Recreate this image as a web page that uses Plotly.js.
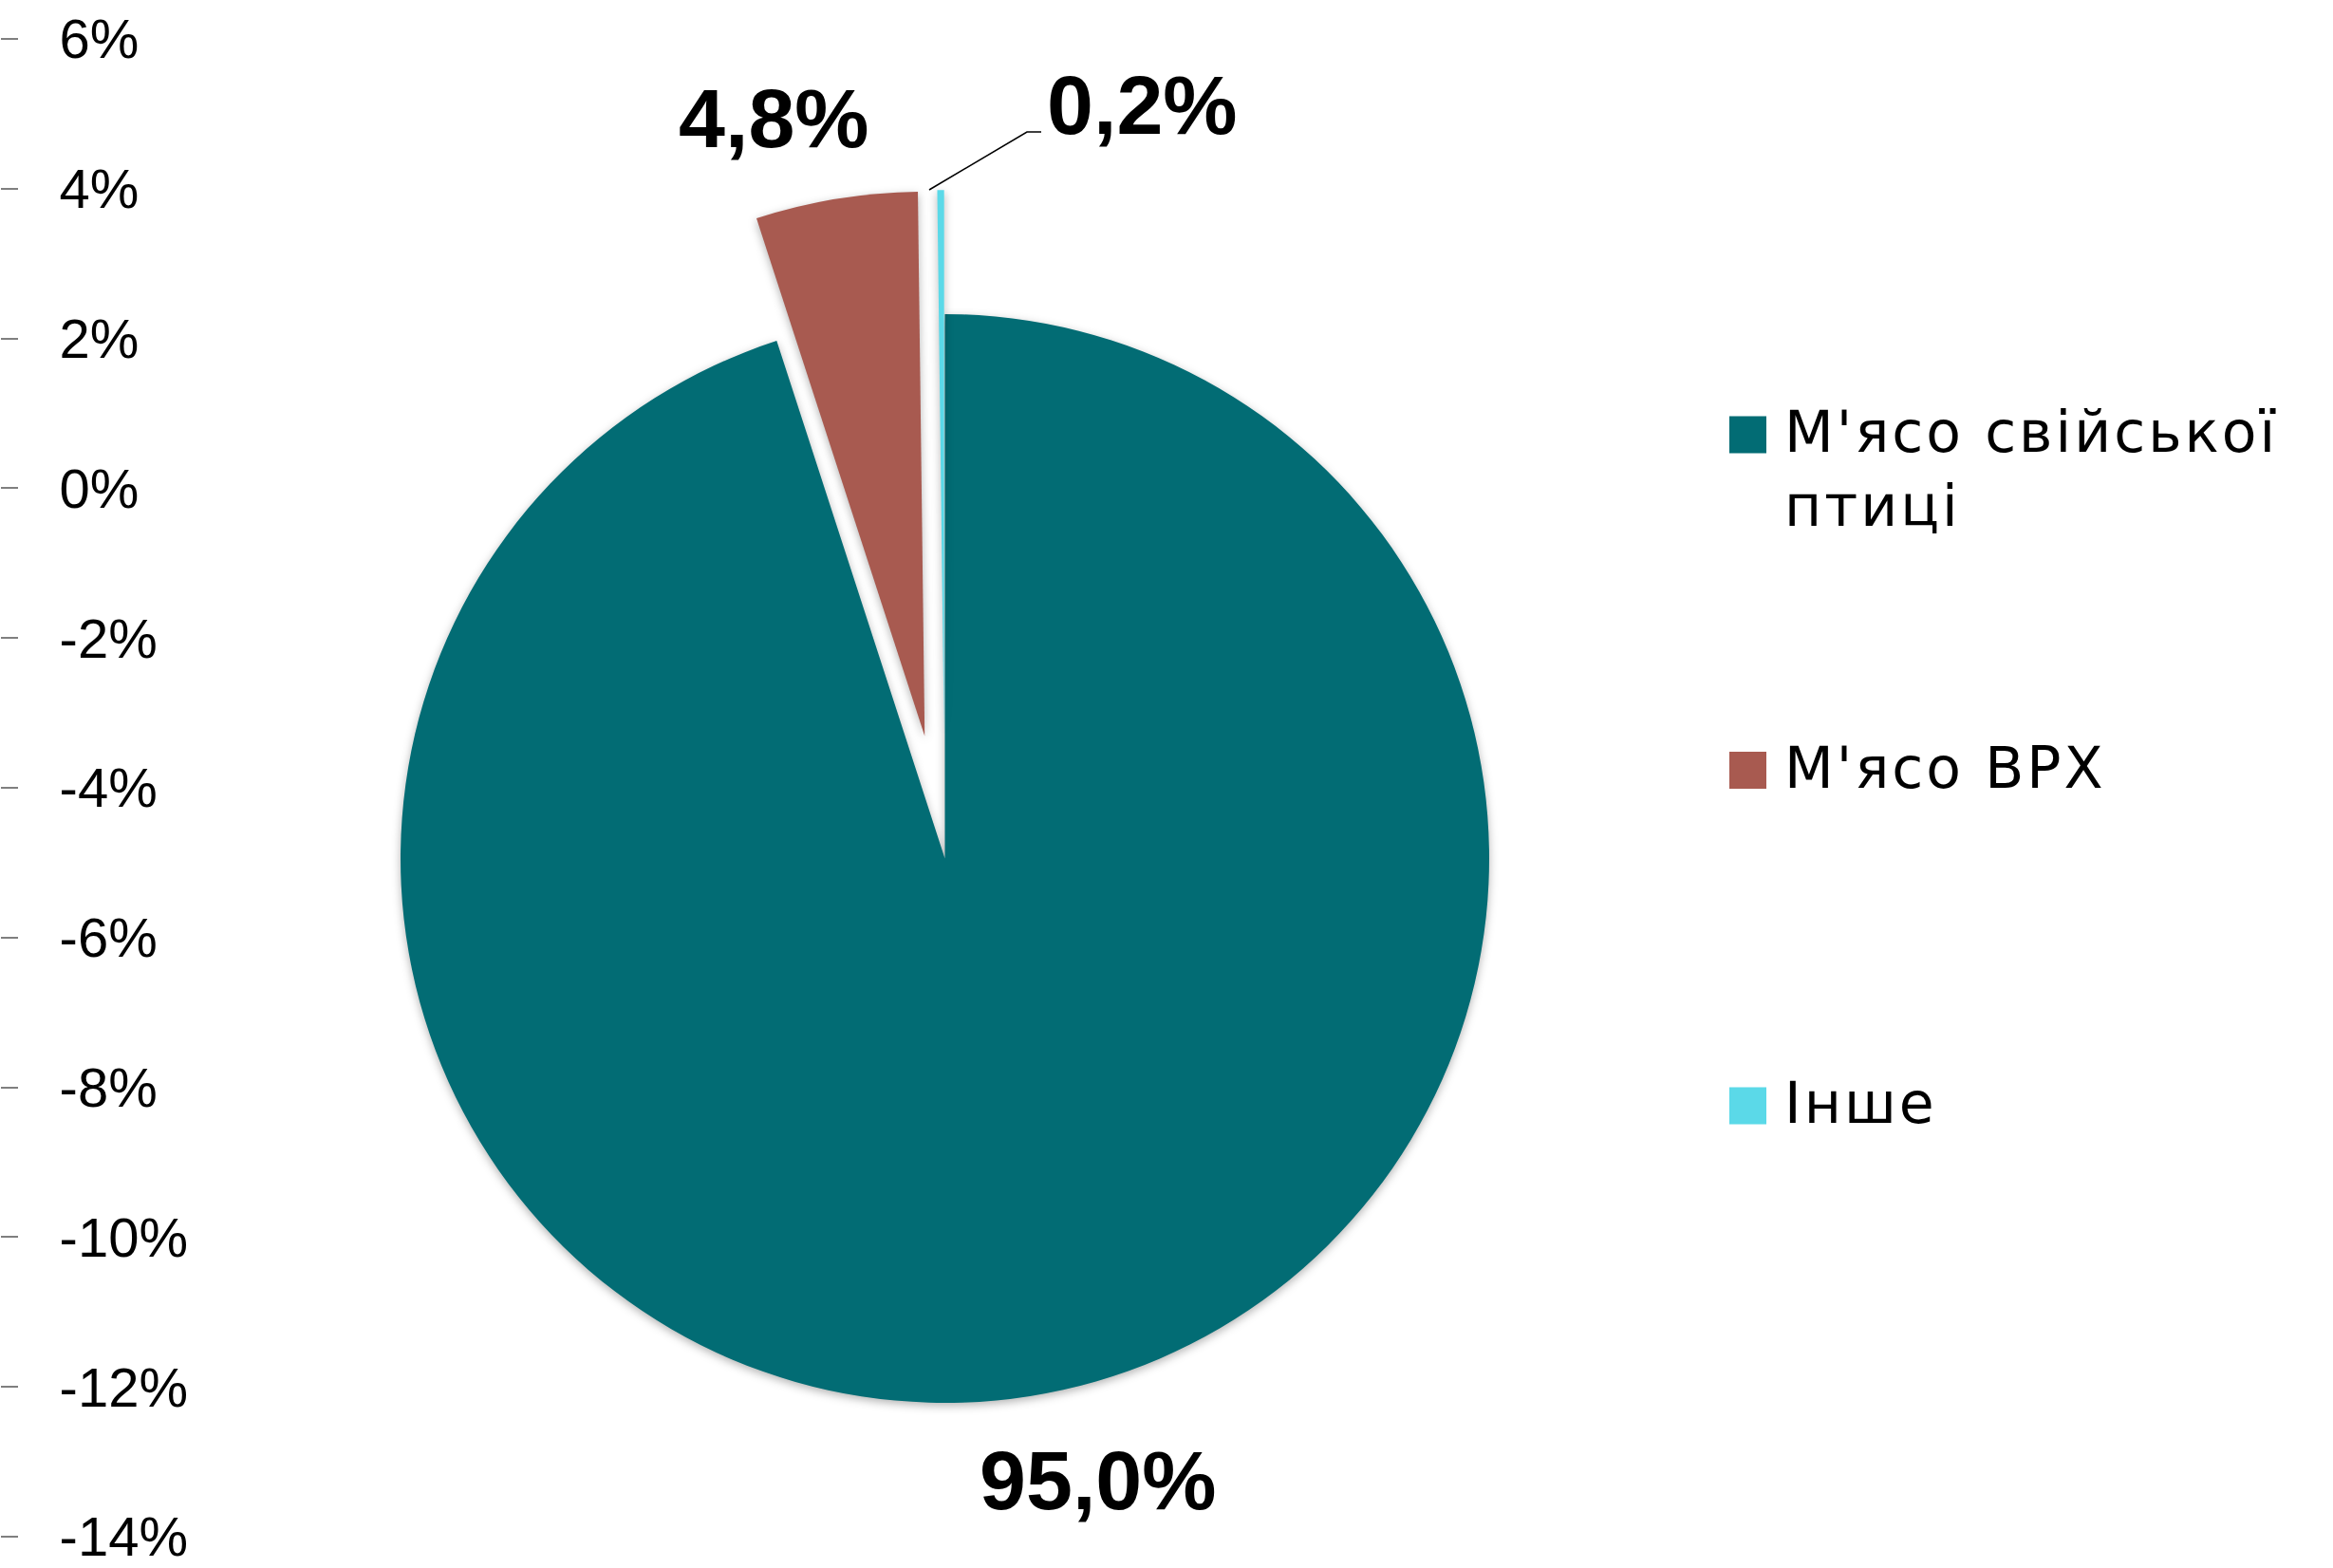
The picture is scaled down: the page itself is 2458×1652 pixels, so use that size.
<!DOCTYPE html>
<html>
<head>
<meta charset="utf-8">
<script src="https://cdn.plot.ly/plotly-3.0.1.min.js"></script>
<style>
  html, body { margin: 0; padding: 0; background: #ffffff; }
  #chart { width: 2458px; height: 1652px; }
  g.annotation[data-index="3"] text,
  g.annotation[data-index="4"] text,
  g.annotation[data-index="5"] text { letter-spacing: 3px; }
  g.slice path.surface { filter: drop-shadow(0px 3px 5px rgba(0,0,0,0.30)); }
</style>
</head>
<body>
<div id="chart"></div>
<script>
// ---- data ----
const categories = ["М'ясо свійської птиці", "М'ясо ВРХ", "Інше"];
const shares = [95.0, 4.8, 0.2];
const sliceColors = ["#026c74", "#a85a50", "#5bd9e8"];
const slicePull = [0, 0.228, 0.228];
const axisTickValues = [6, 4, 2, 0, -2, -4, -6, -8, -10, -12, -14];
const axisTickLabels = axisTickValues.map(v => String(v) + "%");

// ---- helpers ----
const W = 2458, H = 1652;
const px = x => x / W;
const py = y => 1 - y / H;
const fmtPct = v => v.toFixed(1).replace(".", ",") + "%";
function wrap(text, maxChars) {
  const words = text.split(" ");
  const lines = [];
  let cur = "";
  words.forEach(w => {
    const next = cur ? cur + " " + w : w;
    if (next.length > maxChars && cur) { lines.push(cur); cur = w; }
    else cur = next;
  });
  if (cur) lines.push(cur);
  return lines.join("<br>");
}

// y-axis mapping: top tick near 41px, bottom tick near 1619px
const topTickPx = 41, bottomTickPx = 1619;
const pxPerUnit = (bottomTickPx - topTickPx) / 20;
const yTop = 6 + topTickPx / pxPerUnit;
const yBottom = -14 - (H - bottomTickPx) / pxPerUnit;

const pieTrace = {
  type: "pie",
  labels: categories,
  values: shares,
  sort: false,
  direction: "clockwise",
  rotation: 0,
  pull: slicePull,
  marker: { colors: sliceColors, line: { width: 0 } },
  textinfo: "none",
  hoverinfo: "label+percent",
  showlegend: false,
  domain: { x: [px(291.25), px(1699.75)], y: [py(1608.75), py(200.25)] }
};

const axisTrace = {
  type: "scatter",
  x: axisTickValues.map(() => 0),
  y: axisTickValues,
  mode: "markers",
  marker: { opacity: 0 },
  hoverinfo: "skip",
  showlegend: false,
  xaxis: "x",
  yaxis: "y"
};

// data labels
const labelFont = { family: "Liberation Sans, Arial, sans-serif", size: 88, color: "#000000" };
const labelPos = [
  { x: 1157, y: 1559 },
  { x: 815, y: 125 },
  { x: 1203, y: 110 }
];
const annotations = shares.map((v, i) => ({
  xref: "paper", yref: "paper",
  x: px(labelPos[i].x), y: py(labelPos[i].y),
  xanchor: "center", yanchor: "middle",
  text: "<b>" + fmtPct(v) + "</b>",
  font: labelFont,
  showarrow: false
}));

// leader line for the smallest slice label
const shapes = [{
  type: "path", xref: "paper", yref: "paper",
  path: "M " + px(979) + "," + py(200) + " L " + px(1082) + "," + py(139) + " L " + px(1097) + "," + py(139),
  line: { color: "#000000", width: 1.6 }
}];

// legend (drawn from categories and colours)
const legendFirstY = 458, legendStep = 353.5;
const legendFont = { family: "DejaVu Sans, Verdana, sans-serif", size: 60, color: "#000000" };
categories.forEach((c, i) => {
  const yc = legendFirstY + i * legendStep;
  shapes.push({
    type: "rect", xref: "paper", yref: "paper",
    x0: px(1822), x1: px(1861), y0: py(yc + 19.5), y1: py(yc - 19.5),
    fillcolor: sliceColors[i], line: { width: 0 }
  });
  annotations.push({
    xref: "paper", yref: "paper",
    x: px(1878), y: py(yc - 40),
    xanchor: "left", yanchor: "top", align: "left",
    text: wrap(c, 16),
    font: legendFont,
    showarrow: false
  });
});

const layout = {
  width: W, height: H,
  margin: { l: 0, r: 0, t: 0, b: 0, pad: 0 },
  paper_bgcolor: "#ffffff",
  plot_bgcolor: "rgba(0,0,0,0)",
  showlegend: false,
  xaxis: { visible: false, range: [0, 1], domain: [0, 1], fixedrange: true },
  yaxis: {
    range: [yBottom, yTop],
    anchor: "free", position: 0, side: "right",
    tickvals: axisTickValues, ticktext: axisTickLabels,
    ticks: "outside", ticklen: 18, tickwidth: 2, tickcolor: "#7f7f7f",
    ticklabelstandoff: 32,
    ticklabeloverflow: "allow",
    tickfont: { family: "Liberation Sans, Arial, sans-serif", size: 58, color: "#000000" },
    showline: false, showgrid: false, zeroline: false, fixedrange: true
  },
  shapes: shapes,
  annotations: annotations
};

Plotly.newPlot("chart", [axisTrace, pieTrace], layout, { staticPlot: true, displayModeBar: false });
</script>
</body>
</html>
